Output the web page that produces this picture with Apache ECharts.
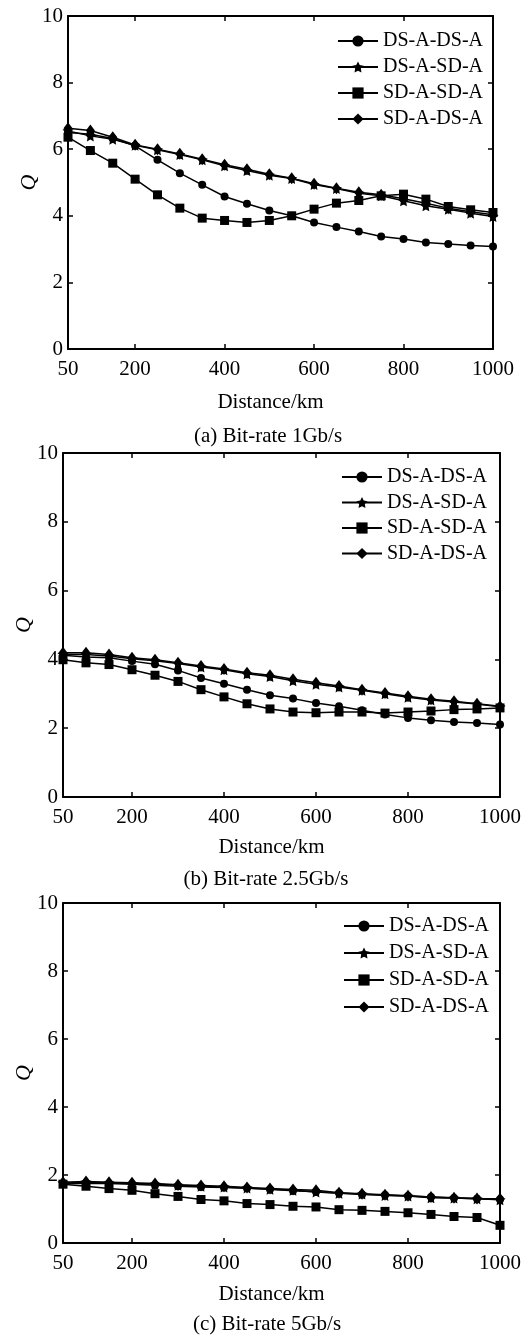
<!DOCTYPE html>
<html>
<head>
<meta charset="utf-8">
<script src="https://cdn.jsdelivr.net/npm/echarts@6/dist/echarts.min.js"></script>
<style>
  html, body { margin: 0; background: #fff; }
  #chart { width: 524px; height: 1338px; }
</style>
</head>
<body>
<div id="chart"></div>
<script>
const distance = [50, 100, 150, 200, 250, 300, 350, 400, 450, 500, 550, 600, 650, 700, 750, 800, 850, 900, 950, 1000]
const xTicks = [50, 200, 400, 600, 800, 1000]
const seriesNames = ['DS-A-DS-A', 'DS-A-SD-A', 'SD-A-SD-A', 'SD-A-DS-A']

// (a) 1Gb/s
const q1_DSDS = [6.5, 6.45, 6.32, 6.1, 5.68, 5.28, 4.93, 4.58, 4.36, 4.16, 4.0, 3.8, 3.66, 3.53, 3.38, 3.3, 3.2, 3.15, 3.11, 3.08]
const q1_DSSD = [6.55, 6.4, 6.3, 6.12, 5.98, 5.84, 5.68, 5.5, 5.36, 5.22, 5.12, 4.94, 4.82, 4.68, 4.6, 4.45, 4.3, 4.2, 4.08, 3.98]
const q1_SDSD = [6.36, 5.96, 5.58, 5.1, 4.63, 4.23, 3.93, 3.86, 3.8, 3.86, 4.0, 4.2, 4.38, 4.46, 4.6, 4.65, 4.5, 4.28, 4.18, 4.1]
const q1_SDDS = [6.63, 6.56, 6.36, 6.13, 6.0, 5.86, 5.7, 5.53, 5.4, 5.25, 5.13, 4.96, 4.83, 4.71, 4.63, 4.51, 4.38, 4.23, 4.12, 4.03]

// (b) 2.5Gb/s
const q25_DSDS = [4.12, 4.07, 4.05, 3.95, 3.86, 3.68, 3.46, 3.29, 3.12, 2.96, 2.86, 2.73, 2.64, 2.52, 2.4, 2.3, 2.23, 2.18, 2.15, 2.11]
const q25_DSSD = [4.15, 4.14, 4.1, 4.02, 3.96, 3.88, 3.78, 3.7, 3.58, 3.5, 3.38, 3.28, 3.2, 3.1, 3.0, 2.9, 2.82, 2.76, 2.7, 2.62]
const q25_SDSD = [3.99, 3.9, 3.85, 3.7, 3.54, 3.36, 3.12, 2.91, 2.71, 2.56, 2.47, 2.45, 2.47, 2.47, 2.44, 2.47, 2.5, 2.54, 2.56, 2.59]
const q25_SDDS = [4.19, 4.19, 4.14, 4.05, 3.99, 3.9, 3.81, 3.72, 3.61, 3.54, 3.42, 3.32, 3.23, 3.12, 3.02, 2.93, 2.84, 2.78, 2.71, 2.64]

// (c) 5Gb/s
const q5_DSDS = [1.75, 1.76, 1.75, 1.73, 1.7, 1.67, 1.65, 1.63, 1.61, 1.58, 1.54, 1.51, 1.47, 1.43, 1.41, 1.38, 1.35, 1.32, 1.3, 1.28]
const q5_DSSD = [1.77, 1.79, 1.77, 1.75, 1.73, 1.7, 1.67, 1.65, 1.62, 1.58, 1.55, 1.5, 1.46, 1.44, 1.4, 1.38, 1.33, 1.32, 1.3, 1.27]
const q5_SDSD = [1.73, 1.67, 1.6, 1.55, 1.45, 1.37, 1.28, 1.24, 1.16, 1.13, 1.08, 1.06, 0.98, 0.96, 0.93, 0.89, 0.84, 0.78, 0.75, 0.52]
const q5_SDDS = [1.79, 1.81, 1.79, 1.77, 1.75, 1.71, 1.69, 1.67, 1.63, 1.6, 1.57, 1.55, 1.48, 1.45, 1.42, 1.39, 1.35, 1.33, 1.31, 1.3]

const captions = ['(a) Bit-rate 1Gb/s', '(b) Bit-rate 2.5Gb/s', '(c) Bit-rate 5Gb/s']

const FONT = '"Liberation Serif", "Times New Roman", serif'
const STAR = 'path://M0,-10L2.9,-4L9.5,-3.1L4.8,1.5L5.9,8.1L0,5L-5.9,8.1L-4.8,1.5L-9.5,-3.1L-2.9,-4Z'
const symbols = [['circle', 8], [STAR, 11], ['rect', 9], ['diamond', [9, 12]]]

// layout of each panel (pixels)
const panels = [
  { data: [q1_DSDS, q1_DSSD, q1_SDSD, q1_SDDS], grid: { left: 68, right: 31, top: 16, height: 333 }, legend: { left: 337, top: 31, itemGap: 6 }, xNameGap: 43, caption: [268, 436] },
  { data: [q25_DSDS, q25_DSSD, q25_SDSD, q25_SDDS], grid: { left: 63, right: 23, top: 453, height: 344 }, legend: { left: 341, top: 467, itemGap: 5.5 }, xNameGap: 40, caption: [266, 879] },
  { data: [q5_DSDS, q5_DSSD, q5_SDSD, q5_SDDS], grid: { left: 63, right: 23, top: 903, height: 340 }, legend: { left: 343, top: 916, itemGap: 7 }, xNameGap: 41, caption: [267, 1324] },
]

const black = '#000'
const axisLine = { show: true, onZero: false, lineStyle: { color: black, width: 2 } }
const tick = (extra) => Object.assign({ show: true, inside: true, length: 5, lineStyle: { color: black, width: 1.5 } }, extra)
const labelStyle = { color: black, fontFamily: FONT, fontSize: 21 }
const plain = (v) => String(v)

const grid = [], xAxis = [], yAxis = [], series = [], legend = [], graphic = []

panels.forEach((p, i) => {
  grid.push(p.grid)
  xAxis.push({
    type: 'value', gridIndex: i, min: 50, max: 1000, position: 'bottom',
    axisLine, splitLine: { show: false },
    axisTick: tick({ customValues: xTicks }),
    axisLabel: Object.assign({ customValues: xTicks, margin: 10, formatter: plain }, labelStyle),
    name: 'Distance/km', nameLocation: 'middle', nameGap: p.xNameGap, nameMoveOverlap: false,
    nameTextStyle: Object.assign({ padding: [0, 20, 0, 0] }, labelStyle),
  })
  xAxis.push({
    type: 'value', gridIndex: i, min: 50, max: 1000, position: 'top',
    axisLine, splitLine: { show: false },
    axisTick: tick({ customValues: xTicks }), axisLabel: { show: false },
  })
  yAxis.push({
    type: 'value', gridIndex: i, min: 0, max: 10, interval: 2, position: 'left',
    axisLine, splitLine: { show: false },
    axisTick: tick(), axisLabel: Object.assign({ margin: 5, formatter: plain }, labelStyle),
    name: 'Q', nameLocation: 'middle', nameGap: 28, nameRotate: 90, nameMoveOverlap: false,
    nameTextStyle: Object.assign({}, labelStyle, { fontStyle: 'italic', fontSize: 22 }),
  })
  yAxis.push({
    type: 'value', gridIndex: i, min: 0, max: 10, interval: 2, position: 'right',
    axisLine, splitLine: { show: false },
    axisTick: tick(), axisLabel: { show: false },
  })

  p.data.forEach((vals, j) => {
    series.push({
      type: 'line', name: seriesNames[j],
      xAxisIndex: 2 * i, yAxisIndex: 2 * i,
      data: distance.map((d, k) => [d, vals[k]]),
      symbol: symbols[j][0], symbolSize: symbols[j][1],
      lineStyle: { color: black, width: 1.5 },
      itemStyle: { color: black },
    })
  })

  legend.push(Object.assign({
    orient: 'vertical', itemWidth: 40, itemHeight: 14, padding: 0,
    data: seriesNames, selectedMode: false,
    textStyle: { color: black, fontFamily: FONT, fontSize: 20, lineHeight: 20 },
  }, p.legend))

  graphic.push({
    type: 'text', x: p.caption[0], y: p.caption[1],
    style: { text: captions[i], fill: black, font: '21px ' + FONT, align: 'center', verticalAlign: 'middle' },
  })
})

const chart = echarts.init(document.getElementById('chart'))
chart.setOption({ animation: false, grid, xAxis, yAxis, series, legend, graphic })
</script>
</body>
</html>
